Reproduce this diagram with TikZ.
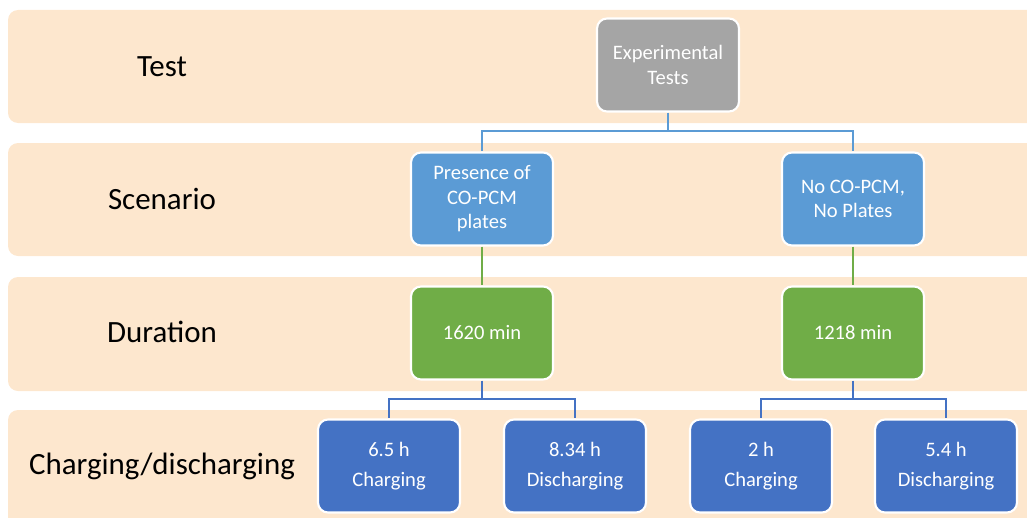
\documentclass[tikz,border=0pt]{standalone}
\usepackage{fontspec}
\setmainfont{Carlito}
\usepackage{xcolor}
\definecolor{bandcol}{HTML}{FDE7CE}
\definecolor{testgray}{HTML}{A5A5A5}
\definecolor{scenblue}{HTML}{5B9BD5}
\definecolor{durgreen}{HTML}{70AD47}
\definecolor{chgblue}{HTML}{4472C4}

\begin{document}
\begin{tikzpicture}[x=0.02cm, y=-0.02cm]
	\tikzset{band/.style = {fill=bandcol, rounded corners=0.2cm}}
	\tikzset{rowlabel/.style = {font=\fontsize{17.6}{21}\selectfont, text=black}}
	\tikzset{box/.style = {shape=rectangle, rounded corners=0.2cm, draw=white,
			line width=1.2pt, minimum width=2.84cm, minimum height=1.86cm,
			align=center, text=white, font=\fontsize{11.7}{14}\selectfont}}
	\tikzset{tallbox/.style = {box, font=\fontsize{11.7}{17}\selectfont}}
	\tikzset{edge/.style = {-, line width=1.6pt}}
	\clip (0,0) rectangle (1027,517);
	% bands
	\fill[band] (8,10) rectangle (1045,123);
	\fill[band] (8,143) rectangle (1045,256);
	\fill[band] (8,277) rectangle (1045,391);
	\fill[band] (8,410) rectangle (1045,530);
	% row labels
	\node[rowlabel] (ltest) at (162,67) {Test};
	\node[rowlabel] (lscen) at (162,199) {Scenario};
	\node[rowlabel] (ldur) at (162,332) {Duration};
	\node[rowlabel] (lchg) at (162,466) {Charging/discharging};
	% vertices
	\node[box, fill=testgray] (exp) at (668,65) {Experimental\\Tests};
	\node[box, fill=scenblue] (pres) at (482,199) {Presence of\\CO-PCM\\plates};
	\node[box, fill=scenblue] (nopl) at (853,199) {No CO-PCM,\\No Plates};
	\node[box, fill=durgreen] (dura) at (482,333) {1620 min};
	\node[box, fill=durgreen] (durb) at (853,333) {1218 min};
	\node[tallbox, fill=chgblue] (ca) at (389,466) {6.5 h\\Charging};
	\node[tallbox, fill=chgblue] (da) at (575,466) {8.34 h\\Discharging};
	\node[tallbox, fill=chgblue] (cb) at (761,466) {2 h\\Charging};
	\node[tallbox, fill=chgblue] (db) at (946,466) {5.4 h\\Discharging};
	\coordinate (splitexp) at (668,131);
	\coordinate (splita) at (482,399);
	\coordinate (splitb) at (853,399);
	%edges
	\draw[edge, scenblue] (exp) -- (splitexp) -| (pres);
	\draw[edge, scenblue] (splitexp) -| (nopl);
	\draw[edge, durgreen] (pres) -- (dura);
	\draw[edge, durgreen] (nopl) -- (durb);
	\draw[edge, chgblue] (dura) -- (splita) -| (ca);
	\draw[edge, chgblue] (splita) -| (da);
	\draw[edge, chgblue] (durb) -- (splitb) -| (cb);
	\draw[edge, chgblue] (splitb) -| (db);
\end{tikzpicture}
\end{document}
